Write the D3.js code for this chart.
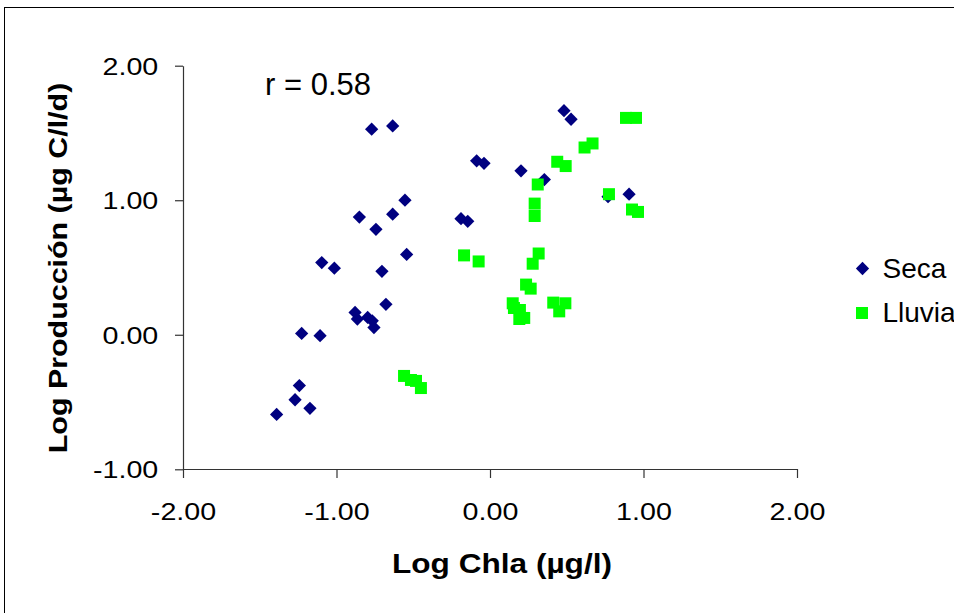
<!DOCTYPE html>
<html>
<head>
<meta charset="utf-8">
<script src="https://cdn.jsdelivr.net/npm/d3@7"></script>
<style>
  html, body { margin: 0; padding: 0; background: #fff; }
  svg { display: block; font-family: "Liberation Sans", Arial, sans-serif; }
</style>
</head>
<body>
<svg id="chart" width="954" height="613"></svg>
<script>
// ---- data ----
const xTicks = [-2, -1, 0, 1, 2];
const yTicks = [-1, 0, 1, 2];
const seriesNames = ["Seca", "Lluvia"];
const seriesColors = ["#000080", "#00FF00"];

const secaX = [-0.771, -0.634, -0.087, -0.039, -0.554, -0.851, -0.634, -0.743, -0.189, -0.145,
               -0.543, -1.096, -1.014, -0.704, -0.678, -0.879, -0.864, -0.797, -0.767, -0.756,
               -1.227, -1.107, -1.242, -1.270, -1.173, -1.390, 0.482, 0.528, 0.202, 0.354,
               0.769, 0.906];
const secaY = [1.528, 1.552, 1.293, 1.274, 1.000, 0.875, 0.896, 0.784, 0.863, 0.843,
               0.597, 0.537, 0.495, 0.472, 0.226, 0.166, 0.117, 0.129, 0.104, 0.054,
               0.010, -0.007, -0.378, -0.483, -0.547, -0.592, 1.666, 1.602, 1.219, 1.154,
               1.026, 1.045];

const lluviaX = [0.886, 0.951, 0.616, 0.668, 0.438, 0.493, 0.311, 0.291, 0.291, 0.775,
                 0.925, 0.964, -0.169, -0.074, 0.317, 0.278, 0.235, 0.265, 0.148, 0.156,
                 0.195, 0.191, 0.223, 0.412, 0.491, 0.451, -0.560, -0.515, -0.482, -0.450];
const lluviaY = [1.612, 1.612, 1.392, 1.422, 1.286, 1.254, 1.117, 0.975, 0.883, 1.045,
                 0.931, 0.913, 0.590, 0.545, 0.604, 0.528, 0.373, 0.343, 0.234, 0.199,
                 0.184, 0.117, 0.125, 0.239, 0.234, 0.174, -0.306, -0.336, -0.343, -0.396];

const rLabel = "r = 0.58";
const xTitle = "Log Chla (µg/l)";
const yTitle = "Log Producción (µg C/l/d)";

// ---- layout ----
const svg = d3.select("#chart");
const X0 = 183, X1 = 797, Y0 = 469.3, Y1 = 65.7;
const SX = 1.17; // horizontal stretch of the original text

const x = d3.scaleLinear().domain([-2, 2]).range([X0, X1]);
const y = d3.scaleLinear().domain([-1, 2]).range([Y0, Y1]);

// outer frame
svg.append("rect")
  .attr("x", 4.5).attr("y", 7.5)
  .attr("width", 980).attr("height", 640)
  .attr("fill", "#fff").attr("stroke", "#000").attr("stroke-width", 1);

// axes
const fmt = d => d.toFixed(2);
const yAxis = svg.append("g")
  .attr("transform", `translate(${X0},0)`)
  .call(d3.axisLeft(y).tickValues(yTicks).tickFormat(fmt).tickSize(8).tickSizeOuter(0));
const xAxis = svg.append("g")
  .attr("transform", `translate(0,${Math.round(Y0)})`)
  .call(d3.axisBottom(x).tickValues(xTicks).tickFormat(fmt).tickSize(9).tickSizeOuter(0));

[yAxis, xAxis].forEach(a => {
  a.select(".domain").attr("stroke", "#333").attr("stroke-width", 1.2);
  a.selectAll(".tick line").attr("stroke", "#333").attr("stroke-width", 1.2);
  a.selectAll(".tick text")
    .attr("fill", "#000")
    .style("font-family", '"Liberation Sans", Arial, sans-serif')
    .style("font-size", "24.5px");
});
yAxis.selectAll(".tick text")
  .attr("x", -24.7 / SX).attr("dy", "0.35em")
  .attr("transform", `scale(${SX},1)`);
xAxis.selectAll(".tick text")
  .attr("y", 51.4).attr("dy", 0)
  .attr("transform", `scale(${SX},1)`);

// axis titles
svg.append("g").attr("transform", "translate(502,573.3)")
  .append("text")
  .attr("text-anchor", "middle")
  .attr("transform", `scale(${SX},1)`)
  .style("font-weight", "bold").style("font-size", "27px")
  .text(xTitle);

svg.append("g").attr("transform", "translate(66.7,268) rotate(-90)")
  .append("text")
  .attr("text-anchor", "middle")
  .attr("transform", `scale(${SX},1)`)
  .style("font-weight", "bold").style("font-size", "26px")
  .text(yTitle);

// r label
svg.append("text")
  .attr("x", 265).attr("y", 95)
  .style("font-size", "31px")
  .text(rLabel);

// markers
const diamond = d3.symbol(d3.symbolSquare, 88);
const square = d3.symbol(d3.symbolSquare, 144);

const seca = secaX.map((v, i) => [v, secaY[i]]);
const lluvia = lluviaX.map((v, i) => [v, lluviaY[i]]);

svg.append("g").selectAll("path").data(seca).join("path")
  .attr("d", diamond)
  .attr("transform", d => `translate(${x(d[0])},${y(d[1])}) rotate(45)`)
  .attr("fill", seriesColors[0]);

svg.append("g").selectAll("path").data(lluvia).join("path")
  .attr("d", square)
  .attr("transform", d => `translate(${x(d[0])},${y(d[1])})`)
  .attr("fill", seriesColors[1]);

// legend
const legY = [268.5, 313];
const leg = svg.append("g");
leg.append("path").attr("d", diamond)
  .attr("transform", `translate(862.5,${legY[0]}) rotate(45)`)
  .attr("fill", seriesColors[0]);
leg.append("path").attr("d", square)
  .attr("transform", `translate(862,${legY[1]})`)
  .attr("fill", seriesColors[1]);
leg.selectAll("text").data(seriesNames).join("text")
  .attr("x", 882.5)
  .attr("y", (d, i) => legY[i] + 9)
  .style("font-size", "28px")
  .text(d => d);
</script>
</body>
</html>
